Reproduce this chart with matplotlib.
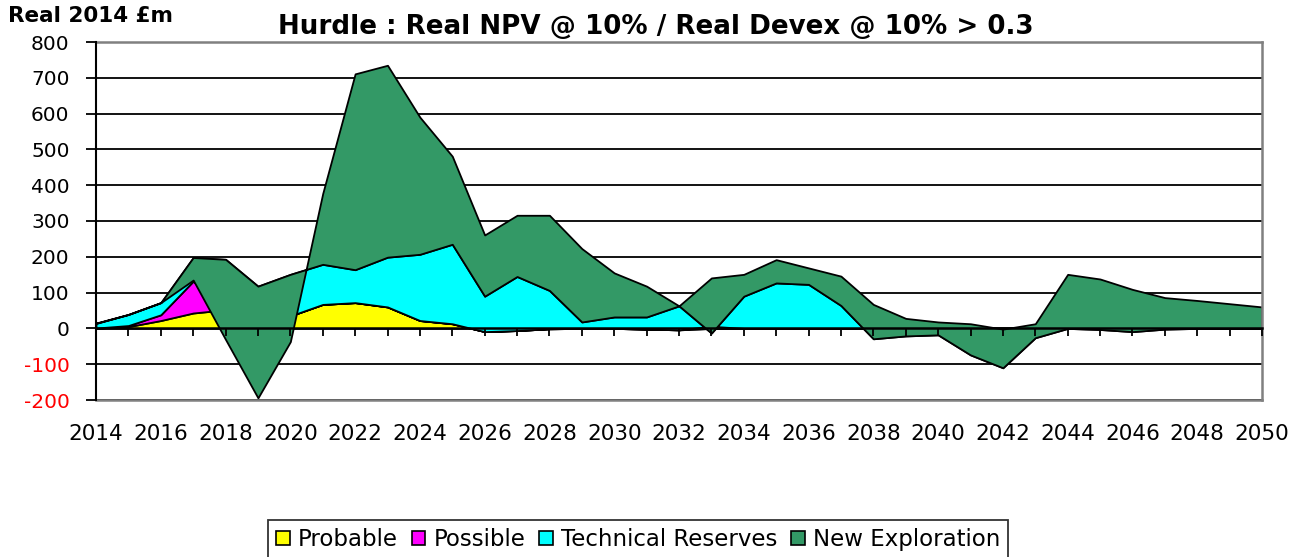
import matplotlib
matplotlib.use('Agg')
import matplotlib.pyplot as plt
from matplotlib.patches import Patch
import numpy as np

years = list(range(2014, 2051))
probable = [1, 5, 22, 43, 52, 10, 35, 67, 72, 60, 22, 13, -9, -6, -1, 0, 0, -2, -4, 0,
            0, 0, 0, 0, 0, 0, 0, 0, 0, 0, 0, 0, 0, 0, 0, 0, 0]
possible = [0, 3, 16, 89, 0, 0, 0, 0, 0, 0, 0, 0, 0, 0, 0, 0, 0, 0, 0, 6,
            0, 0, 0, 0, 0, 0, 0, 0, 0, 0, 0, 0, 0, 0, 0, 0, 0]
technical = [13, 31, 34, 66, 141, 108, 116, 112, 92, 139, 185, 222, 99, 151, 107, 18, 32, 34, 67, -19,
             90, 127, 123, 64, -29, -21, -18, -74, -110, -26, 0, -3, -9, -2, 0, 0, 0]
new_expl = [1, 0, 0, -63, -224, -312, -188, 198, 547, 536, 383, 246, 171, 171, 210, 205, 123, 86, 0, 154,
            61, 65, 46, 82, 96, 49, 36, 87, 108, 39, 151, 141, 118, 88, 78, 69, 60]

series_names = ['Probable', 'Possible', 'Technical Reserves', 'New Exploration']
series_colors = ['#FFFF00', '#FF00FF', '#00FFFF', '#339966']
ylim = (-200, 800)
yticks = list(range(-200, 801, 100))
xlabels_years = years[::2]

FONT = 'DejaVu Sans'
plt.rcParams['font.family'] = [FONT]

W, H = 1303, 557
fig = plt.figure(figsize=(W / 100, H / 100), dpi=100)
ax = fig.add_axes([96 / W, 1 - 400 / H, (1262 - 96) / W, (400 - 42) / H])

x = np.array(years)
data = [np.array(s, dtype=float) for s in (probable, possible, technical, new_expl)]
lower = np.zeros_like(x, dtype=float)
for vals, col, name in zip(data, series_colors, series_names):
    upper = lower + vals
    ax.fill_between(x, lower, upper, facecolor=col, edgecolor='black', linewidth=1.3, zorder=2)
    lower = upper

ax.set_xlim(years[0], years[-1])
ax.set_ylim(*ylim)
ax.set_yticks(yticks)
ax.set_yticklabels([str(v) for v in yticks], fontsize=14.5)
for lbl, v in zip(ax.get_yticklabels(), yticks):
    lbl.set_color('red' if v < 0 else 'black')
ax.tick_params(axis='y', direction='out', length=7, width=1.3, color='black', pad=12)

# horizontal gridlines
ax.yaxis.grid(True, color='black', linewidth=1.3, zorder=0)
ax.set_axisbelow(True)

# main bottom axis for labels
ax.set_xticks(xlabels_years)
ax.set_xticklabels([str(y) for y in xlabels_years], fontsize=15.5)
ax.tick_params(axis='x', length=0, pad=17)

for side in ('top', 'right', 'bottom'):
    ax.spines[side].set_color('#808080')
    ax.spines[side].set_linewidth(1.8)
ax.spines['left'].set_color('black')
ax.spines['left'].set_linewidth(1.5)
ax.spines['left'].set_zorder(5)

# category axis at zero
zero_loc = (0 - ylim[0]) / (ylim[1] - ylim[0])
sec = ax.secondary_xaxis(zero_loc)
sec.set_xticks(years)
sec.set_xticklabels([])
sec.tick_params(direction='out', length=6, width=1.3, color='black')
sec.spines['bottom'].set_color('black')
sec.spines['bottom'].set_linewidth(1.8)
sec.set_zorder(4)

fig.text(656 / W, 1 - 27 / H, 'Hurdle : Real NPV @ 10% / Real Devex @ 10% > 0.3',
         ha='center', va='center', fontsize=18.8, fontweight='bold')
fig.text(8 / W, 1 - 16 / H, 'Real 2014 £m', ha='left', va='center', fontsize=15.5, fontweight='bold')

handles = [Patch(facecolor=c, edgecolor='black', linewidth=1.2) for c in series_colors]
leg = fig.legend(handles, series_names, loc='upper center', bbox_to_anchor=(638 / W, 1 - 520 / H),
                 ncol=4, fontsize=16.5, frameon=True, fancybox=False, edgecolor='black',
                 handlelength=0.6, handleheight=0.6, handletextpad=0.35, columnspacing=0.6,
                 borderpad=0.35, borderaxespad=0)
leg.get_frame().set_linewidth(1.3)

fig.savefig('out.png', dpi=100)
